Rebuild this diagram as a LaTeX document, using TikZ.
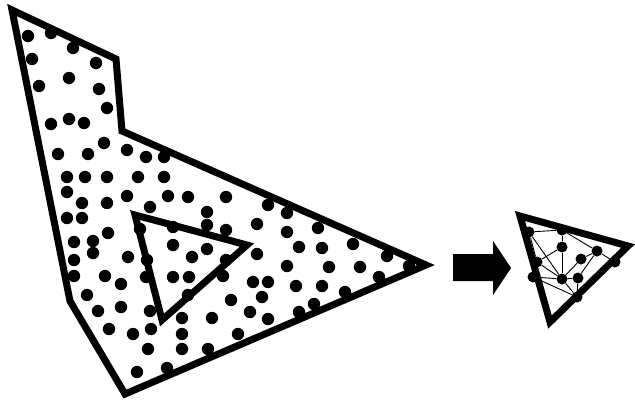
\documentclass[tikz,border=0pt]{standalone}
\usetikzlibrary{positioning}

\tikzset{
    border/.style={line width=7pt, line join=miter},
    pt/.style={circle, fill=black, inner sep=0pt, minimum size=11pt},
    mesh/.style={line width=0.9pt}
}

\begin{document}
\begin{tikzpicture}[x=1pt, y=-1pt]
        \useasboundingbox (0,0) rectangle (635,405);

        % Outer domain
        \draw[border] (12,10) -- (116,59) -- (122,131) -- (426,265)
            -- (125,394) -- (70,301) -- cycle;

        % Hole
        \draw[border] (135,215) -- (247,245) -- (162,320) -- cycle;

        % Point cloud
        \foreach \x/\y in {28/36, 51/33, 73/48, 32/59, 96/63, 69/78, 39/86, 99/89,
            107/108, 51/124, 69/119, 84/123, 104/143, 58/154, 88/154, 127/150,
            146/157, 164/157, 67/177, 85/177, 107/177, 138/177, 164/177, 67/192,
            127/196, 168/196, 188/197, 82/203, 107/203, 150/207, 207/212, 226/197,
            268/205, 287/213, 67/218, 82/218, 173/227, 207/225, 140/229, 108/233,
            226/230, 257/224, 287/232, 318/228, 74/242, 93/241, 93/253, 173/245,
            207/249, 192/257, 128/257, 74/260, 147/260, 226/260, 257/254, 299/247,
            322/248, 353/244, 387/256, 409/266, 287/266, 329/267, 360/267, 74/276,
            105/276, 173/277, 189/277, 146/277, 223/276, 253/282, 268/282, 296/286,
            322/286, 379/277, 345/292, 121/284, 188/295, 87/295, 231/300, 262/297,
            314/304, 98/311, 121/307, 150/311, 250/312, 299/312, 182/318, 212/318,
            268/319, 109/329, 133/334, 151/329, 182/334, 238/334, 148/349, 182/349,
            208/349, 137/372, 167/368} {
            \fill (\x,\y) circle (6.2);
        }

        % Arrow
        \fill (453,254) -- (493,254) -- (493,241) -- (511,268) -- (493,295)
            -- (493,281) -- (453,281) -- cycle;

        % Meshed element
        \draw[border] (520,216) -- (628,246) -- (550,322) -- cycle;

        \node[pt] (a) at (529,232) {};
        \node[pt] (b) at (562,230) {};
        \node[pt] (c) at (562,247) {};
        \node[pt] (d) at (597,251) {};
        \node[pt] (e) at (581,259) {};
        \node[pt] (f) at (615,262) {};
        \node[pt] (g) at (537,262) {};
        \node[pt] (h) at (533,277) {};
        \node[pt] (i) at (562,279) {};
        \node[pt] (j) at (578,278) {};
        \node[pt] (k) at (577,297) {};

        % Mesh edges
        \foreach \p/\q in {a/b, a/g, a/i, b/c, b/d, c/g, c/i, d/e, d/f, d/j,
            e/i, f/k, g/h, g/i, h/i, h/k, i/j, i/k, j/k} {
            \draw[mesh] (\p) -- (\q);
        }
    \end{tikzpicture}
\end{document}
